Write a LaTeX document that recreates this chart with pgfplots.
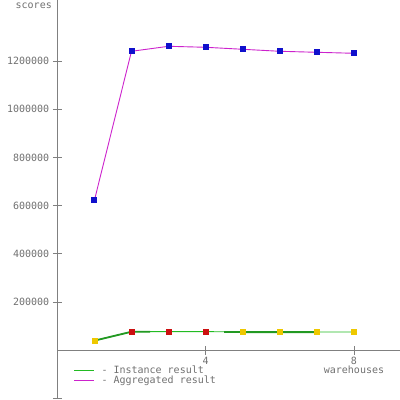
\documentclass[border=0pt]{standalone}
\usepackage{fontspec}
\setmainfont{DejaVu Sans Mono}
\setmonofont{DejaVu Sans Mono}
\usepackage{pgfplots}
\pgfplotsset{compat=1.18}
\definecolor{axgray}{HTML}{808080}
\definecolor{txtgray}{HTML}{707070}
\definecolor{instgreen}{HTML}{22BB22}
\definecolor{darkgreen}{HTML}{229922}
\definecolor{aggpurple}{HTML}{CC22CC}
\definecolor{markblue}{HTML}{1010CC}
\definecolor{markred}{HTML}{CC1010}
\definecolor{markyellow}{HTML}{EEC800}
\begin{document}
\begin{tikzpicture}[x=1pt,y=1pt]
\useasboundingbox (0,0) rectangle (400,400);
\begin{axis}[
  at={(57.3pt,1.5pt)}, anchor=south west,
  scale only axis, width=342.7pt, height=398.5pt,
  xmin=0, xmax=9.24, ymin=-200000, ymax=1453500,
  axis lines=middle,
  axis line style={draw=axgray, line width=0.8pt, -},
  xtick={4,8}, ytick={200000,400000,600000,800000,1000000,1200000},
  extra y ticks={-200000}, extra y tick labels={},
  major tick length=9pt,
  tick style={draw=axgray, line width=0.8pt},
  tick align=center,
  scaled y ticks=false,
  /pgf/number format/assume math mode=true,
  yticklabel={\pgfmathprintnumber[fixed,1000 sep={}]{\tick}},
  ticklabel style={font=\fontsize{10}{10}\selectfont, text=txtgray},
  xticklabel style={yshift=1.5pt},
  legend style={at={(rel axis cs:0.047,0.087)}, anchor=north west, draw=none, fill=none,
    font=\fontsize{10}{8}\selectfont, text=txtgray, row sep=-3.5pt, inner sep=0pt,
    cells={anchor=west}},
  legend image code/.code={\draw[#1] (0pt,0pt) -- (20pt,0pt); \path (25pt,0pt);},
  clip=false,
]
\addplot[instgreen, line width=0.9pt, mark=none] coordinates {
  (1,40000) (2,77000) (3,77500) (4,77500) (5,76000) (6,76000) (7,76000) (8,76000)};
\addlegendentry{- Instance result}
\addplot[aggpurple, line width=0.9pt, mark=square*, mark size=2.5pt,
  mark options={fill=markblue, draw=markblue}] coordinates {
  (1,622000) (2,1240700) (3,1261400) (4,1257300) (5,1249000) (6,1240700) (7,1236500) (8,1232400)};
\addlegendentry{- Aggregated result}
\addplot[darkgreen, line width=1.8pt, forget plot] coordinates {(1,40000) (2,77000) (2.5,77200)};
\addplot[darkgreen, line width=1.8pt, forget plot] coordinates {(4.5,76000) (5,75500) (6,75500) (7,75500)};
\addplot[only marks, mark=square*, mark size=2.5pt, markred, forget plot] coordinates {
  (2,77000) (3,77500) (4,77500)};
\addplot[only marks, mark=square*, mark size=2.5pt, markyellow, forget plot] coordinates {
  (1,40000) (5,76000) (6,76000) (7,76000) (8,76000)};
\end{axis}
\node[anchor=north east, font=\fontsize{10}{10}\selectfont, text=txtgray, inner sep=0pt] at (52,397.5) {scores};
\node[anchor=north, font=\fontsize{10}{10}\selectfont, text=txtgray, inner sep=0pt] at (354,34.5) {warehouses};
\end{tikzpicture}
\end{document}
